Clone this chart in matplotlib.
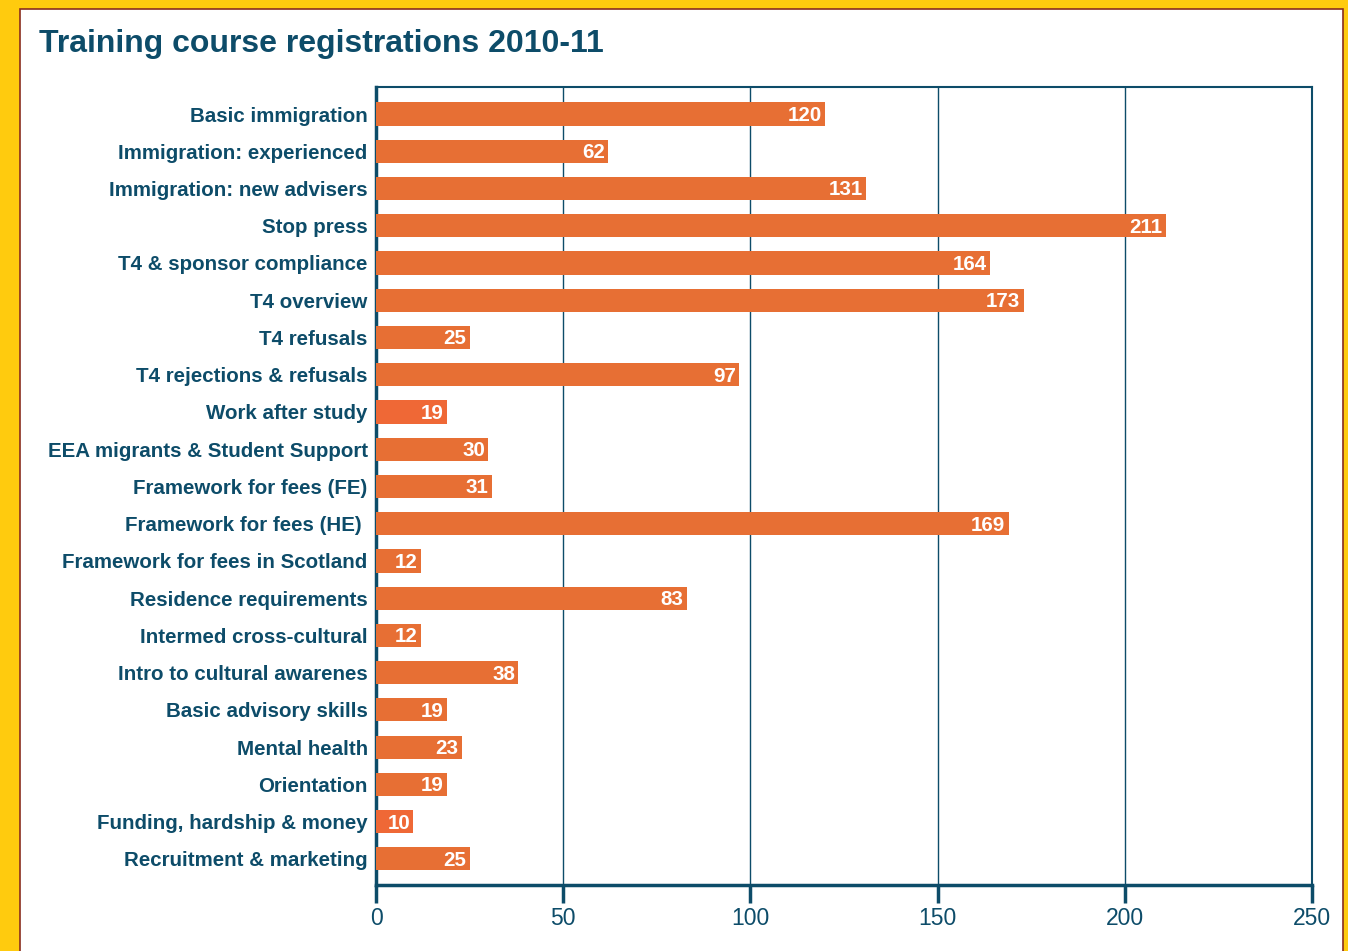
import matplotlib
matplotlib.use("Agg")
import matplotlib.pyplot as plt
from matplotlib.patches import Rectangle

categories = [
    "Basic immigration", "Immigration: experienced", "Immigration: new advisers",
    "Stop press", "T4 & sponsor compliance", "T4 overview", "T4 refusals",
    "T4 rejections & refusals", "Work after study", "EEA migrants & Student Support",
    "Framework for fees (FE)", "Framework for fees (HE) ", "Framework for fees in Scotland",
    "Residence requirements", "Intermed cross-cultural", "Intro to cultural awarenes",
    "Basic advisory skills", "Mental health", "Orientation",
    "Funding, hardship & money", "Recruitment & marketing",
]
values = [120, 62, 131, 211, 164, 173, 25, 97, 19, 30, 31, 169, 12, 83, 12, 38, 19, 23, 19, 10, 25]
xticks = [0, 50, 100, 150, 200, 250]
title = "Training course registrations 2010-11"

TEAL = "#0D4C69"
ORANGE = "#E76F34"
ORANGE2 = "#EF6836"
YELLOW = "#FFCB0E"

W, H = 1348, 951
plt.rcParams['font.family'] = ['Liberation Sans', 'DejaVu Sans']
fig = plt.figure(figsize=(W / 100, H / 100), dpi=100, facecolor=YELLOW)

# white panel
fig.patches.append(Rectangle((20 / W, -0.05), (1343 - 20) / W, 1.05 - 9 / H,
                             transform=fig.transFigure, facecolor="white",
                             edgecolor="#8A2E1E", linewidth=1.2, zorder=-10))

ax = fig.add_axes([376 / W, 1 - 885 / H, (1312 - 376) / W, (885 - 87) / H])
ax.set_facecolor("none")

ypos = list(range(len(categories)))
colors = [ORANGE2 if c in ("Work after study", "Funding, hardship & money") else ORANGE for c in categories]
ax.barh(ypos, values, height=0.62, color=colors, zorder=3)
for y, v in zip(ypos, values):
    ax.text(v - 0.9, y + 0.04, str(v), ha="right", va="center", color="white",
            fontsize=14.8, fontweight="bold", zorder=4)

ax.set_xlim(0, 250)
ax.set_ylim(20.7, -0.725)
ax.set_yticks(ypos)
ax.set_yticklabels(categories, fontsize=14.8, fontweight="bold", color=TEAL)
ax.tick_params(axis="y", length=0, pad=6)
ax.set_xticks(xticks)
ax.set_xticklabels([str(t) for t in xticks], fontsize=16.5, color=TEAL)
ax.tick_params(axis="x", length=13, width=2.5, color=TEAL, direction="out", pad=3)
for t in xticks[1:-1]:
    ax.axvline(t, color=TEAL, linewidth=1.0, zorder=1)

for side in ["top", "right"]:
    ax.spines[side].set_color(TEAL)
    ax.spines[side].set_linewidth(1.5)
for side in ["left", "bottom"]:
    ax.spines[side].set_color(TEAL)
    ax.spines[side].set_linewidth(2.5)

fig.text(39 / W, 1 - 44 / H, title, ha="left", va="center", fontsize=23,
         fontweight="bold", color=TEAL)

fig.savefig("out.png", dpi=100, facecolor=YELLOW)
